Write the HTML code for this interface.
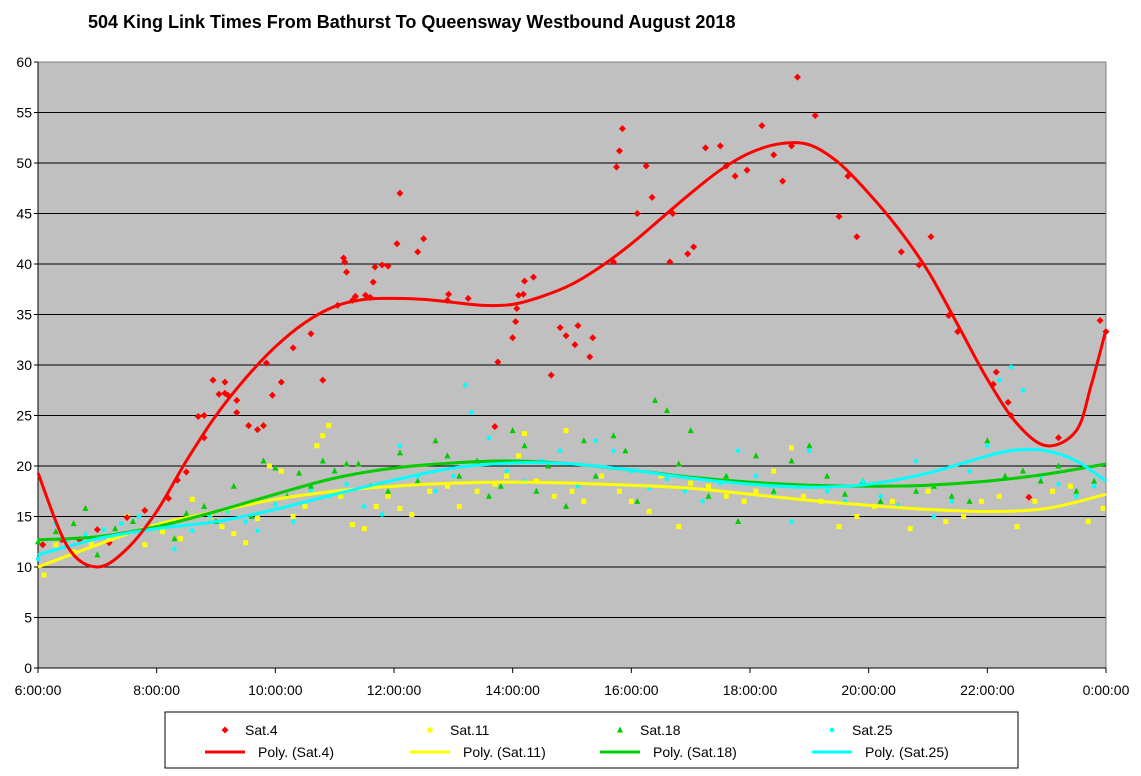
<!DOCTYPE html>
<html><head><meta charset="utf-8"><style>
html,body{margin:0;padding:0;background:#fff;width:1141px;height:776px;overflow:hidden}
svg{display:block;font-family:"Liberation Sans",Arial,sans-serif}
</style></head><body>
<svg id="chart" width="1141" height="776" xmlns="http://www.w3.org/2000/svg">
<text x="88" y="28" font-size="18" font-weight="bold">504 King Link Times From Bathurst To Queensway Westbound August 2018</text>
<rect x="38" y="62" width="1068" height="606" fill="#c0c0c0"/>
<g id="grid"></g><g id="axes"></g><g id="series"></g>
<g>
<rect x="165" y="712" width="853" height="56" fill="#fff" stroke="#000" stroke-width="1"/>
</g>
<g id="legend"></g>
</svg>
<script>
const yTicks=[0,5,10,15,20,25,30,35,40,45,50,55,60];
const xTickHours=[6,8,10,12,14,16,18,20,22,24];
const xTickLabels=["6:00:00","8:00:00","10:00:00","12:00:00","14:00:00","16:00:00","18:00:00","20:00:00","22:00:00","0:00:00"];

const redHours=[6.08,6.4,6.7,7.0,7.2,7.5,7.8,8.2,8.35,8.5,8.7,8.8,8.8,8.95,9.05,9.15,9.15,9.2,9.35,9.35,9.55,9.7,9.8,9.85,9.95,10.1,10.3,10.6,10.8,11.05,11.15,11.17,11.2,11.3,11.35,11.52,11.6,11.65,11.68,11.8,11.9,12.05,12.1,12.4,12.5,12.9,12.92,13.25,13.75,13.7,14.0,14.05,14.07,14.1,14.18,14.2,14.35,14.65,14.8,14.9,15.05,15.1,15.3,15.35,15.7,15.75,15.8,15.85,16.1,16.25,16.35,16.65,16.7,16.95,17.05,17.25,17.5,17.6,17.75,17.95,18.2,18.4,18.55,18.7,18.8,19.1,19.5,19.65,19.8,20.55,20.85,21.05,21.35,21.5,22.1,22.15,22.35,22.4,22.7,23.2,23.9,24.0];
const redValues=[12.2,12.7,12.7,13.7,12.4,14.9,15.6,16.8,18.6,19.4,24.9,25,22.8,28.5,27.1,28.3,27.2,27,26.5,25.3,24,23.6,24,30.2,27,28.3,31.7,33.1,28.5,35.9,40.6,40.2,39.2,36.4,36.8,36.9,36.7,38.2,39.7,39.9,39.8,42,47,41.2,42.5,36.4,37,36.6,30.3,23.9,32.7,34.3,35.6,36.9,37,38.3,38.7,29,33.7,32.9,32,33.9,30.8,32.7,40.2,49.6,51.2,53.4,45,49.7,46.6,40.2,45,41,41.7,51.5,51.7,49.7,48.7,49.3,53.7,50.8,48.2,51.7,58.5,54.7,44.7,48.7,42.7,41.2,39.9,42.7,34.9,33.3,28.1,29.3,26.3,25,16.9,22.8,34.4,33.3];
const yellowHours=[6.1,6.3,6.6,6.9,7.2,7.5,7.8,8.1,8.4,8.6,8.9,9.1,9.3,9.5,9.7,9.9,10.1,10.3,10.5,10.7,10.8,10.9,11.1,11.3,11.5,11.7,11.9,12.1,12.3,12.6,12.9,13.1,13.4,13.7,13.9,14.1,14.2,14.4,14.7,14.9,15.0,15.2,15.5,15.8,16.0,16.3,16.5,16.8,17.0,17.3,17.6,17.9,18.1,18.4,18.7,18.9,19.2,19.5,19.8,20.1,20.4,20.7,21.0,21.3,21.6,21.9,22.2,22.5,22.8,23.1,23.4,23.7,23.95];
const yellowValues=[9.2,12.2,11.5,12.3,13,15,12.2,13.5,12.8,16.7,15,14,13.3,12.4,14.8,20,19.5,15,16,22,23,24,17,14.2,13.8,16,17,15.8,15.2,17.5,18,16,17.5,18.2,19,21,23.2,18.5,17,23.5,17.5,16.5,19,17.5,16.5,15.5,19,14,18.3,18,17,16.5,17.5,19.5,21.8,17,16.5,14,15,16,16.5,13.8,17.5,14.5,15,16.5,17,14,16.5,17.5,18,14.5,15.8];
const greenHours=[6.0,6.3,6.6,6.8,7.0,7.3,7.6,8.0,8.3,8.5,8.8,9.0,9.3,9.6,9.8,10.0,10.2,10.4,10.6,10.8,11.0,11.2,11.4,11.6,11.9,12.1,12.4,12.7,12.9,13.1,13.4,13.6,13.8,14.0,14.2,14.4,14.6,14.9,15.2,15.4,15.7,15.9,16.1,16.4,16.6,16.8,17.0,17.3,17.6,17.8,18.1,18.4,18.7,19.0,19.3,19.6,19.9,20.2,20.5,20.8,21.1,21.4,21.7,22.0,22.3,22.6,22.9,23.2,23.5,23.8];
const greenValues=[12.5,13.5,14.3,15.8,11.2,13.8,14.5,14.2,12.8,15.3,16,14.5,18,15,20.5,19.8,17,19.3,18,20.5,19.5,20.2,20.2,18,17.5,21.3,18.5,22.5,21,19,20.5,17,18,23.5,22,17.5,20,16,22.5,19,23,21.5,16.5,26.5,25.5,20.2,23.5,17,19,14.5,21,17.5,20.5,22,19,17.2,18.5,16.5,16,17.5,18,17,16.5,22.5,19,19.5,18.5,20,17.5,18.5];
const cyanHours=[6.0,6.3,6.5,6.8,7.1,7.4,7.7,8.0,8.3,8.6,8.9,9.2,9.5,9.7,10.0,10.3,10.6,10.9,11.2,11.5,11.8,12.1,12.4,12.7,13.0,13.2,13.3,13.6,13.9,14.2,14.5,14.8,15.1,15.4,15.7,16.0,16.3,16.6,16.9,17.2,17.5,17.8,18.1,18.4,18.7,19.0,19.3,19.6,19.9,20.2,20.5,20.8,21.1,21.4,21.7,22.0,22.2,22.4,22.6,22.9,23.2,23.5,23.8];
const cyanValues=[10.8,14.3,12.7,13.2,13.7,14.3,15,14.2,11.8,13.6,15,15.5,14.5,13.6,16.2,14.5,17.5,17,18.2,16,15.2,22,19,17.5,19,28,25.3,22.8,19.5,18.5,20.5,21.5,18,22.5,21.5,19.5,17.8,18.7,17.5,16.5,18.3,21.5,19,17,14.5,21.5,17.5,16.5,18.5,17,16,20.5,15,16.5,19.5,22,28.5,29.8,27.5,19,18.2,17,18];

const redTrendHours=[6,6.5,7,7.5,8,8.5,9,9.5,10,10.5,11,11.5,12,12.5,13,13.5,14,14.5,15,15.5,16,16.5,17,17.5,18,18.5,19,19.5,20,20.5,21,21.5,22,22.5,23,23.5,23.75,24];
const redTrendValues=[19.3,12,10,11.8,15.5,20.5,25,28.7,31.8,34.2,35.8,36.5,36.6,36.5,36.2,35.9,36,36.8,38,39.8,42,44.5,47,49.3,51,51.9,51.8,50,47,43.5,39.3,34,28.6,24.2,22,23.5,28,33.5];
const trendHours=[6,7,8,9,10,11,12,13,14,15,16,17,18,19,20,21,22,23,24];
const yellowTrend=[10,12.2,14.2,15.5,16.7,17.5,18,18.3,18.4,18.3,18.1,17.8,17.2,16.6,16.1,15.7,15.5,15.8,17.2];
const greenTrend=[12.7,13,14,15.5,17.2,18.8,19.8,20.3,20.5,20.2,19.6,18.9,18.4,18.1,18,18.1,18.5,19.2,20.2];
const cyanTrendHours=[6,7,8,9,10,11,12,13,14,15,16,17,18,19,20,21,22,22.5,23,23.5,24];
const cyanTrend=[11.2,12.8,13.8,14.5,15.7,17.2,18.6,19.8,20.3,20.2,19.6,18.8,18.2,17.9,18.2,19.3,21,21.6,21.5,20.5,18.5];

const X0=38,X1=1106,Y0=668,Y1=62;
const xs=h=>X0+(h-6)/18*(X1-X0);
const ys=v=>Y0-v/60*(Y0-Y1);
const NS="http://www.w3.org/2000/svg";
function mk(tag,parent,attrs){const e=document.createElementNS(NS,tag);for(const k in attrs)e.setAttribute(k,attrs[k]);parent.appendChild(e);return e;}
const grid=document.getElementById('grid'),axes=document.getElementById('axes'),series=document.getElementById('series'),legend=document.getElementById('legend');

yTicks.forEach(v=>{
  if(v>0){const l=mk('line',grid,{x1:X0,x2:X1,y1:ys(v),y2:ys(v),stroke:'#000','stroke-width':1});
  
  }
  const t=mk('line',axes,{x1:X0-4,x2:X0,y1:ys(v),y2:ys(v),stroke:'#000'});
  
  
  const tx=mk('text',axes,{x:X0-6,y:ys(v)+5,'text-anchor':'end','font-size':14});
  tx.textContent=v;
  
  
});
mk('rect',axes,{x:X0,y:Y1,width:X1-X0,height:Y0-Y1,fill:'none',stroke:'#808080'});
const ax=mk('line',axes,{x1:X0,x2:X1,y1:Y0,y2:Y0,stroke:'#000'});


const ay=mk('line',axes,{x1:X0,x2:X0,y1:Y1,y2:Y0,stroke:'#000'});


xTickHours.forEach((h,i)=>{
  const t=mk('line',axes,{x1:xs(h),x2:xs(h),y1:Y0,y2:Y0+5,stroke:'#000'});
  
  
  const tx=mk('text',axes,{x:xs(h),y:Y0+27,'text-anchor':'middle','font-size':14});
  tx.textContent=xTickLabels[i];
  
  
});

function marker(parent,shape,color,cx,cy){
  let e;
  if(shape==='diamond') e=mk('polygon',parent,{points:`${cx},${cy-3.5} ${cx+3.5},${cy} ${cx},${cy+3.5} ${cx-3.5},${cy}`,fill:color});
  else if(shape==='square') e=mk('rect',parent,{x:cx-2.5,y:cy-2.5,width:5,height:5,fill:color});
  else if(shape==='triangle') e=mk('polygon',parent,{points:`${cx},${cy-3.5} ${cx+3},${cy+2.5} ${cx-3},${cy+2.5}`,fill:color});
  else e=mk('circle',parent,{cx:cx,cy:cy,r:2.3,fill:color});
  return e;
}
function smooth(pts){
  let d=`M${pts[0][0]},${pts[0][1]}`;
  for(let i=0;i<pts.length-1;i++){
    const p0=pts[Math.max(0,i-1)],p1=pts[i],p2=pts[i+1],p3=pts[Math.min(pts.length-1,i+2)];
    const c1=[p1[0]+(p2[0]-p0[0])/6,p1[1]+(p2[1]-p0[1])/6],c2=[p2[0]-(p3[0]-p1[0])/6,p2[1]-(p3[1]-p1[1])/6];
    d+=`C${c1[0]},${c1[1]} ${c2[0]},${c2[1]} ${p2[0]},${p2[1]}`;
  }
  return d;
}
function scatter(hours,vals,shape,color,name){
  const g=mk('g',series,{});
  
  
  hours.forEach((h,i)=>{const m=marker(g,shape,color,xs(h),ys(vals[i]));
    
    });
}
function trend(hours,vals,color,name){
  const p=mk('path',series,{d:smooth(hours.map((h,i)=>[xs(h),ys(vals[i])])),fill:'none',stroke:color,'stroke-width':3});
  
  
}
scatter(yellowHours,yellowValues,'square','#ffff00','sat11-points');
scatter(greenHours,greenValues,'triangle','#00cc00','sat18-points');
scatter(cyanHours,cyanValues,'circle','#00ffff','sat25-points');
scatter(redHours,redValues,'diamond','#ff0000','sat4-points');
trend(trendHours,yellowTrend,'#ffff00','sat11-trendline');
trend(trendHours,greenTrend,'#00cc00','sat18-trendline');
trend(cyanTrendHours,cyanTrend,'#00ffff','sat25-trendline');
trend(redTrendHours,redTrendValues,'#ff0000','sat4-trendline');

const legNames=["Sat.4","Sat.11","Sat.18","Sat.25"];
const legColors=['#ff0000','#ffff00','#00cc00','#00ffff'];
const legShapes=['diamond','square','triangle','circle'];
const legX=[205,410,600,812];
legNames.forEach((n,i)=>{
  const m=marker(legend,legShapes[i],legColors[i],legX[i]+20,730);
  
  
  const t=mk('text',legend,{x:legX[i]+40,y:735,'font-size':14});
  t.textContent=n;
  
  
  const l=mk('line',legend,{x1:legX[i],x2:legX[i]+40,y1:752,y2:752,stroke:legColors[i],'stroke-width':3});
  
  
  const t2=mk('text',legend,{x:legX[i]+53,y:757,'font-size':14});
  t2.textContent='Poly. ('+n+')';
  
  
});
</script>
</body></html>
